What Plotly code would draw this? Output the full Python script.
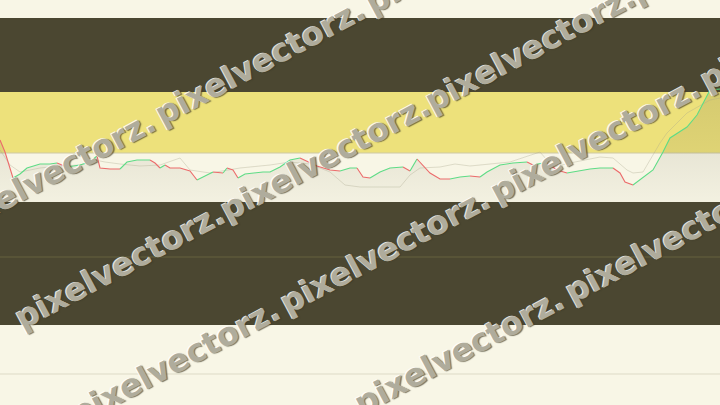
import math
import plotly.graph_objects as go

# ---- data ----
days = [0,5,13,20,27,40,50,57,67,80,90,97,100,110,120,127,137,150,155,160,165,170,180,187,190,197,203,213,223,227,
        233,238,245,263,270,280,290,300,310,317,330,340,350,357,363,370,380,390,403,410,417,423,430,440,450,460,470,480,487,500,
        513,527,533,543,550,557,567,577,590,600,613,620,625,633,640,653,663,670,687,697,710,720]
price = [62,50,24,28,34,38,38,39,35,37,40,46,34,33,33,40,42,42,39,34,37,34,34,32,31,22,25,30,29,34,
         32,24,28,30,30,35,42,44,39,36,32,31,34,34,25,24,30,34,35,31,43,37,29,23,23,25,26,25,30,37,
         39,40,37,39,37,32,29,31,33,34,34,29,20,17,22,32,50,64,75,87,112,113]

avg_days = [0,10,20,40,60,80,95,105,120,140,160,175,180,190,210,240,270,290,310,330,345,360,400,410,420,440,455,470,480,510,
            540,553,575,600,613,627,633,643,660,667,687,710,720]
avg = [52,37,30,34,36,37,42,40,38,36,37,42,44,32,29,34,37,40,38,30,17,15,15,27,34,35,38,36,37,40,
       50,35,40,45,44,32,29,30,59,69,89,102,104]

watermark = "pixelvectorz."

UP = "#5edc86"
DOWN = "#ec6b6b"
DARK = "#4b4731"
YELLOW = "#ede17b"
CREAM = "#f8f6e6"

fig = go.Figure()

# gradient fill under price line
fig.add_trace(go.Scatter(
    x=days, y=price, mode="lines", line=dict(width=0, color="rgba(0,0,0,0)"),
    fill="tozeroy",
    fillgradient=dict(type="vertical", start=0, stop=113,
                      colorscale=[[0, "rgba(75,71,49,0.03)"], [0.35, "rgba(75,71,49,0.08)"],
                                  [1, "rgba(75,71,49,0.15)"]]),
    hoverinfo="skip", showlegend=False))

# faint average line
fig.add_trace(go.Scatter(x=avg_days, y=avg, mode="lines",
                         line=dict(color="rgba(170,165,140,0.35)", width=1),
                         hoverinfo="skip", showlegend=False))

# price line coloured by direction
dirs = []
prev = True
for i in range(len(price) - 1):
    if price[i + 1] > price[i]:
        d = True
    elif price[i + 1] < price[i]:
        d = False
    else:
        d = prev
    dirs.append(d)
    prev = d
start = 0
for i in range(1, len(dirs) + 1):
    if i == len(dirs) or dirs[i] != dirs[start]:
        fig.add_trace(go.Scatter(x=days[start:i + 1], y=price[start:i + 1], mode="lines",
                                 line=dict(color=UP if dirs[start] else DOWN, width=1.1),
                                 hoverinfo="skip", showlegend=False))
        start = i

H = 405.0
W = 720.0
def py(p):
    return 1 - p / H

shapes = [
    dict(type="rect", xref="paper", yref="paper", x0=0, x1=1, y0=py(92), y1=py(18),
         fillcolor=DARK, line_width=0, layer="below"),
    dict(type="rect", xref="paper", yref="paper", x0=0, x1=1, y0=py(153), y1=py(92),
         fillcolor=YELLOW, line_width=0, layer="below"),
    dict(type="rect", xref="paper", yref="paper", x0=0, x1=1, y0=py(325), y1=py(202),
         fillcolor=DARK, line_width=0, layer="below"),
    dict(type="line", xref="paper", yref="paper", x0=0, x1=1, y0=py(153), y1=py(153),
         line=dict(color="#cdc8a4", width=1), layer="below"),
    dict(type="line", xref="paper", yref="paper", x0=0, x1=1, y0=py(257), y1=py(257),
         line=dict(color="#67633f", width=1), layer="below"),
    dict(type="line", xref="paper", yref="paper", x0=0, x1=1, y0=py(374), y1=py(374),
         line=dict(color="#dddac6", width=1), layer="below"),
]

# watermark: words laid end to end along four diagonals (pixel x of each word start)
diagonals = [
    (200, [-55, 155, 365]),
    (330, [15, 220, 425, 630]),
    (455, [70, 280, 490, 700]),
    (595, [145, 355, 565]),
]
slope = 0.53
ang = math.degrees(math.atan(slope))
word_dx = 210.0
annotations = []
for icpt, starts in diagonals:
    for sx in starts:
        sy = icpt - slope * sx
        cx = sx + word_dx / 2
        cy = sy - slope * word_dx / 2
        annotations.append(dict(
            text=watermark, x=cx / W, y=1 - cy / H, xref="paper", yref="paper",
            showarrow=False, textangle=-ang, xanchor="center", yanchor="middle",
            font=dict(family="DejaVu Sans", size=32, weight="bold", color="#afac9c",
                      shadow="-1px -1px 0px rgba(255,255,255,0.85), 1px 1px 1px rgba(60,58,40,0.7)")))

fig.update_layout(
    width=720, height=405, margin=dict(l=0, r=0, t=0, b=0),
    paper_bgcolor=CREAM, plot_bgcolor="rgba(0,0,0,0)",
    xaxis=dict(visible=False, range=[0, 720], fixedrange=True),
    yaxis=dict(visible=False, range=[-203, 202], fixedrange=True),
    shapes=shapes, annotations=annotations, showlegend=False,
)

fig.write_html("out.html", config={"displayModeBar": False},
               post_script="document.body.style.margin='0';document.body.style.background='#f8f6e6';")
